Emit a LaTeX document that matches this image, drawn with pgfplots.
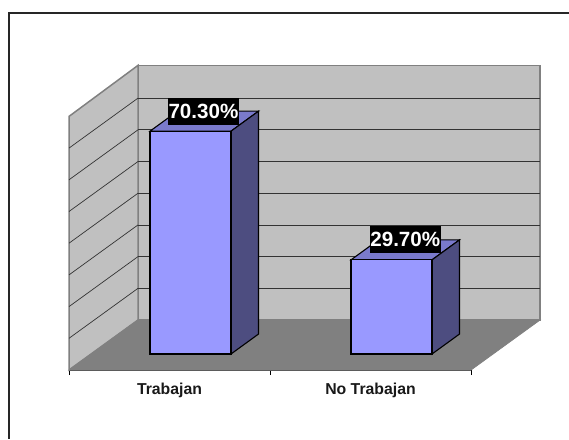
\documentclass[border=0pt]{standalone}
\usepackage{pgfplots}
\pgfplotsset{compat=1.18}
\usepackage{fontspec}
\setmainfont{Liberation Sans}
\definecolor{wall}{HTML}{C0C0C0}
\definecolor{floorc}{HTML}{808080}
\definecolor{barf}{HTML}{9999FF}
\definecolor{bart}{HTML}{7A7ACC}
\definecolor{bars}{HTML}{4D4D80}
\begin{document}
\begin{tikzpicture}[x=1pt,y=1pt]
\begin{axis}[
  name=ax, at={(69pt,69pt)}, anchor=origin,
  scale only axis, width=402pt, height=253.6pt,
  xmin=0, xmax=2, ymin=0, ymax=80,
  clip=false,
  axis x line=bottom, axis y line=none,
  x axis line style={-, draw=black!75, line width=1pt},
  xtick={0.5,1.5}, xticklabels={Trabajan,No Trabajan},
  minor xtick={0,1,2},
  major tick length=0pt, minor tick length=5pt,
  tick align=outside, tick style={black, line width=0.7pt},
  tick label style={font=\bfseries\fontsize{15.8}{17}\selectfont, text=black!90, yshift=-9.5pt},
]
% walls and floor
\addplot[fill=wall, draw=floorc, line width=1.5pt] coordinates {(0.3433,15.77)(2.3433,15.77)(2.3433,96.1)(0.3433,96.1)} -- cycle;
\addplot[fill=wall, draw=floorc, line width=1.5pt] coordinates {(0,0)(0.3433,15.77)(0.3433,96.1)(0,80)} -- cycle;
% grid, back wall
\foreach \v in {10,20,...,70} {
  \pgfmathsetmacro{\w}{\v+15.77}
  \edef\tmp{\noexpand\addplot[black!80, line width=0.7pt, forget plot] coordinates {(0.3433,\w)(2.3433,\w)};
            \noexpand\addplot[black!80, line width=0.7pt, forget plot] coordinates {(0,\v)(0.3433,\w)};}
  \tmp
}
\addplot[fill=floorc, draw=floorc, line width=0.8pt] coordinates {(0,0)(2,0)(2.3433,15.77)(0.3433,15.77)} -- cycle;
% bar 1
\addplot[fill=bart, draw=black, line width=1.1pt, yshift=16pt] coordinates {(0.4030,70.3)(0.8060,70.3)(0.9428,76.6)(0.5398,76.6)} -- cycle;
\addplot[fill=bars, draw=black, line width=1.1pt, yshift=16pt] coordinates {(0.8060,0)(0.9428,6.3)(0.9428,76.6)(0.8060,70.3)} -- cycle;
\addplot[fill=barf, draw=black, line width=1.1pt, yshift=16pt] coordinates {(0.4030,0)(0.8060,0)(0.8060,70.3)(0.4030,70.3)} -- cycle;
% bar 2
\addplot[fill=bart, draw=black, line width=1.1pt, yshift=16pt] coordinates {(1.4030,29.7)(1.8060,29.7)(1.9428,36.0)(1.5398,36.0)} -- cycle;
\addplot[fill=bars, draw=black, line width=1.1pt, yshift=16pt] coordinates {(1.8060,0)(1.9428,6.3)(1.9428,36.0)(1.8060,29.7)} -- cycle;
\addplot[fill=barf, draw=black, line width=1.1pt, yshift=16pt] coordinates {(1.4030,0)(1.8060,0)(1.8060,29.7)(1.4030,29.7)} -- cycle;
% labels
\node[fill=black, text=white, inner sep=0pt, minimum width=71pt, minimum height=27pt, font=\bfseries\fontsize{20.6}{22}\selectfont] at (axis cs:0.669,81.7) {70.30\%};
\node[fill=black, text=white, inner sep=0pt, minimum width=71pt, minimum height=27pt, font=\bfseries\fontsize{20.6}{22}\selectfont] at (axis cs:1.673,41.2) {29.70\%};
\end{axis}
\path[use as bounding box] (0,0) rectangle (569,439);
\draw[black!85, line width=1.6pt] (569,426) -- (9,426) -- (9,0);
\end{tikzpicture}
\end{document}
